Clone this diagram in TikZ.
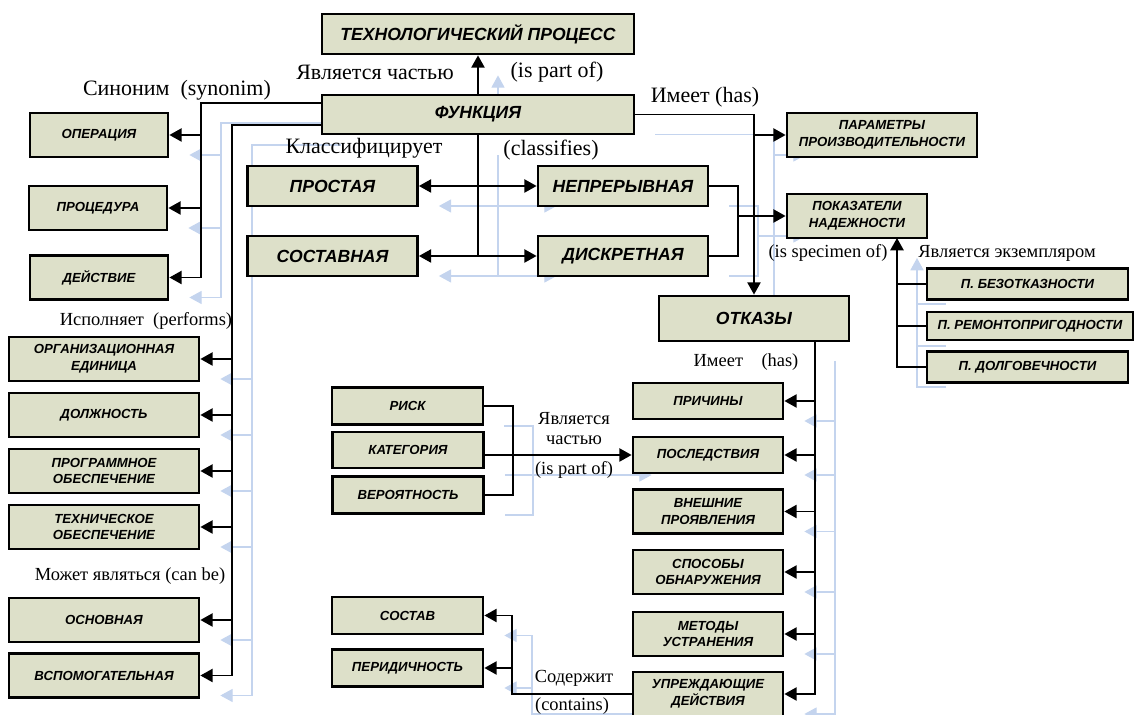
\documentclass[tikz,border=0pt]{standalone}
\usepackage{fontspec}
\setmainfont{Liberation Serif}
\setsansfont{Liberation Sans}
\usetikzlibrary{arrows.meta,backgrounds}
\definecolor{boxfill}{RGB}{221,224,201}
\definecolor{ghostblue}{RGB}{196,212,238}
\newcommand{\drawlinks}{%
   \draw[arr] (fn.north) -- (tp.south);
   \draw[arr] (fn.west |- syn) -- (syn) |- (de.east);
   \draw[arr] (syn |- op.east) -- (op.east);
   \draw[arr] (syn |- pr.east) -- (pr.east);
   \draw[arr] (fn.west |- exe) -- (exe) |- (aux.east);
   \foreach \n in {org,dolzh,prog,tech,main}
      \draw[arr] (exe |- \n.east) -- (\n.east);
   \draw[ln] (fn.south) -- (fn.south |- comp.east);
   \draw[dbl] (simp.east) -- (cont.west);
   \draw[dbl] (comp.east) -- (disc.west);
   \draw[ln] (cont.east) -| (mrg) |- (disc.east);
   \draw[arr] (mrg) -- (rel.west);
   \draw[arr] (fn.east) -| (fail.north);
   \draw[arr] (fail.north |- perf.west) -- (perf.west);
   \draw[arr] (dol.west) -| (spc);
   \draw[ln] (bez.west) -- (spc |- bez.west);
   \draw[ln] (rem.west) -- (spc |- rem.west);
   \draw[arr] (hs) |- (prev.east);
   \foreach \n in {cause,cons,ext,det,elim}
      \draw[arr] (hs |- \n.east) -- (\n.east);
   \draw[ln] (risk.east) -| (rb) |- (prob.east);
   \draw[arr] (cat.east |- cons.west) -- (cons.west);
   \draw[arr] (prev.west) -| (ct |- sost.east) -- (sost.east);
   \draw[arr] (ct |- per.east) -- (per.east);
}

\begin{document}
\begin{tikzpicture}[x=0.02cm,y=-0.02cm,
      ent/.style={draw, line width=1.6pt, fill=boxfill, align=center, inner sep=1pt,
         font=\sffamily\bfseries\itshape\fontsize{7.5}{9.5}\selectfont},
      bigent/.style={ent, font=\sffamily\bfseries\itshape\fontsize{10}{12}\selectfont},
      syncol/.style={ent, minimum width=2.76cm, minimum height=0.88cm},
      cls/.style={bigent, minimum width=3.4cm, minimum height=0.8cm},
      lcol/.style={ent, minimum width=3.8cm, minimum height=0.88cm},
      mcol/.style={ent, minimum width=3.02cm, minimum height=0.74cm},
      rcol/.style={ent, minimum width=3cm, minimum height=0.88cm},
      spec/.style={ent, minimum width=4.02cm, minimum height=0.62cm},
      lbl/.style={inner sep=0pt, font=\fontsize{12.5}{14}\selectfont},
      slbl/.style={inner sep=0pt, font=\fontsize{10.5}{12}\selectfont},
      ln/.style={draw=black, line width=1.1pt},
      arr/.style={ln, -{Triangle[length=7pt,width=7.5pt]}},
      dbl/.style={ln, {Triangle[length=7pt,width=7.5pt]}-{Triangle[length=7pt,width=7.5pt]}},
      ghost/.style={draw=ghostblue, line width=0.6pt}]
   \useasboundingbox (0,0) rectangle (1137,715);
   \node[bigent, minimum width=6.24cm, minimum height=0.8cm] (tp) at (478,34) {ТЕХНОЛОГИЧЕСКИЙ ПРОЦЕСС};
   \node[bigent, minimum width=6.24cm, minimum height=0.78cm] (fn) at (478,114.5) {ФУНКЦИЯ};
   \node[syncol] (op) at (99,135) {ОПЕРАЦИЯ};
   \node[syncol] (pr) at (98,208) {ПРОЦЕДУРА};
   \node[syncol] (de) at (99,277.5) {ДЕЙСТВИЕ};
   \node[cls] (simp) at (332.5,186) {ПРОСТАЯ};
   \node[cls] (comp) at (332.5,256) {СОСТАВНАЯ};
   \node[cls] (cont) at (623,186) {НЕПРЕРЫВНАЯ};
   \node[cls] (disc) at (623,256) {ДИСКРЕТНАЯ};
   \node[ent, minimum width=3.8cm, minimum height=0.88cm] (perf) at (882,135) {ПАРАМЕТРЫ\\ПРОИЗВОДИТЕЛЬНОСТИ};
   \node[ent, minimum width=2.8cm, minimum height=0.88cm] (rel) at (857,216) {ПОКАЗАТЕЛИ\\НАДЕЖНОСТИ};
   \node[bigent, minimum width=3.8cm, minimum height=0.9cm] (fail) at (754,318.5) {ОТКАЗЫ};
   \node[spec] (bez) at (1027.5,284) {П. БЕЗОТКАЗНОСТИ};
   \node[spec, minimum width=4.12cm, minimum height=0.56cm] (rem) at (1030,326) {П. РЕМОНТОПРИГОДНОСТИ};
   \node[spec] (dol) at (1027.5,367) {П. ДОЛГОВЕЧНОСТИ};
   \node[lcol] (org) at (104,359) {ОРГАНИЗАЦИОННАЯ\\ЕДИНИЦА};
   \node[lcol] (dolzh) at (104,415) {ДОЛЖНОСТЬ};
   \node[lcol] (prog) at (104,471) {ПРОГРАММНОЕ\\ОБЕСПЕЧЕНИЕ};
   \node[lcol] (tech) at (104,527) {ТЕХНИЧЕСКОЕ\\ОБЕСПЕЧЕНИЕ};
   \node[lcol] (main) at (104,620) {ОСНОВНАЯ};
   \node[lcol] (aux) at (104,675.5) {ВСПОМОГАТЕЛЬНАЯ};
   \node[mcol] (risk) at (407.5,406) {РИСК};
   \node[mcol, minimum height=0.72cm] (cat) at (408,450) {КАТЕГОРИЯ};
   \node[mcol] (prob) at (408,495) {ВЕРОЯТНОСТЬ};
   \node[mcol] (sost) at (407.5,615.5) {СОСТАВ};
   \node[mcol] (per) at (407.5,668) {ПЕРИДИЧНОСТЬ};
   \node[rcol, minimum height=0.72cm] (cause) at (708,401) {ПРИЧИНЫ};
   \node[rcol, minimum height=0.72cm] (cons) at (708,455) {ПОСЛЕДСТВИЯ};
   \node[rcol] (ext) at (708,511.5) {ВНЕШНИЕ\\ПРОЯВЛЕНИЯ};
   \node[rcol] (det) at (708,572) {СПОСОБЫ\\ОБНАРУЖЕНИЯ};
   \node[rcol] (elim) at (708,634) {МЕТОДЫ\\УСТРАНЕНИЯ};
   \node[rcol] (prev) at (708,694) {УПРЕЖДАЮЩИЕ\\ДЕЙСТВИЯ};
   \coordinate (syn) at (201,103);
   \coordinate (exe) at (232,125);
   \coordinate (mrg) at (738,216);
   \coordinate (spc) at (897,238);
   \coordinate (hs) at (815,341);
   \coordinate (rb) at (513,450);
   \coordinate (ct) at (512,694);
   \node[lbl] (partru) at (375,72) {Является частью};
   \node[lbl] (parten) at (557,72) {(is part of)};
   \node[lbl] (synl) at (177,90) {Синоним\ \ (synonim)};
   \node[lbl] (clsru) at (364,148) {Классифицирует};
   \node[lbl] (clsen) at (551,150) {(classifies)};
   \node[lbl] (hasl) at (705,97) {Имеет (has)};
   \node[slbl] (specen) at (828,253) {(is specimen of)};
   \node[slbl] (specru) at (1007,253) {Является экземпляром};
   \node[slbl] (perfl) at (146,321) {Исполняет\ \ (performs)};
   \node[slbl] (canl) at (130,576) {Может являться (can be)};
   \node[slbl] (fhas) at (746,362) {Имеет\quad (has)};
   \node[slbl] (prt1) at (574,419) {Является};
   \node[slbl] (prt2) at (574,440) {частью};
   \node[slbl] (prt3) at (574,470) {(is part of)};
   \node[slbl] (cnt1) at (574,678) {Содержит};
   \node[slbl] (cnt2) at (572,706) {(contains)};
   \drawlinks
   \begin{pgfonlayer}{background}
      \begin{scope}[transform canvas={xshift=0.4cm,yshift=-0.4cm}, ln/.style={ghost}]
         \drawlinks
      \end{scope}
   \end{pgfonlayer}
\end{tikzpicture}
\end{document}
